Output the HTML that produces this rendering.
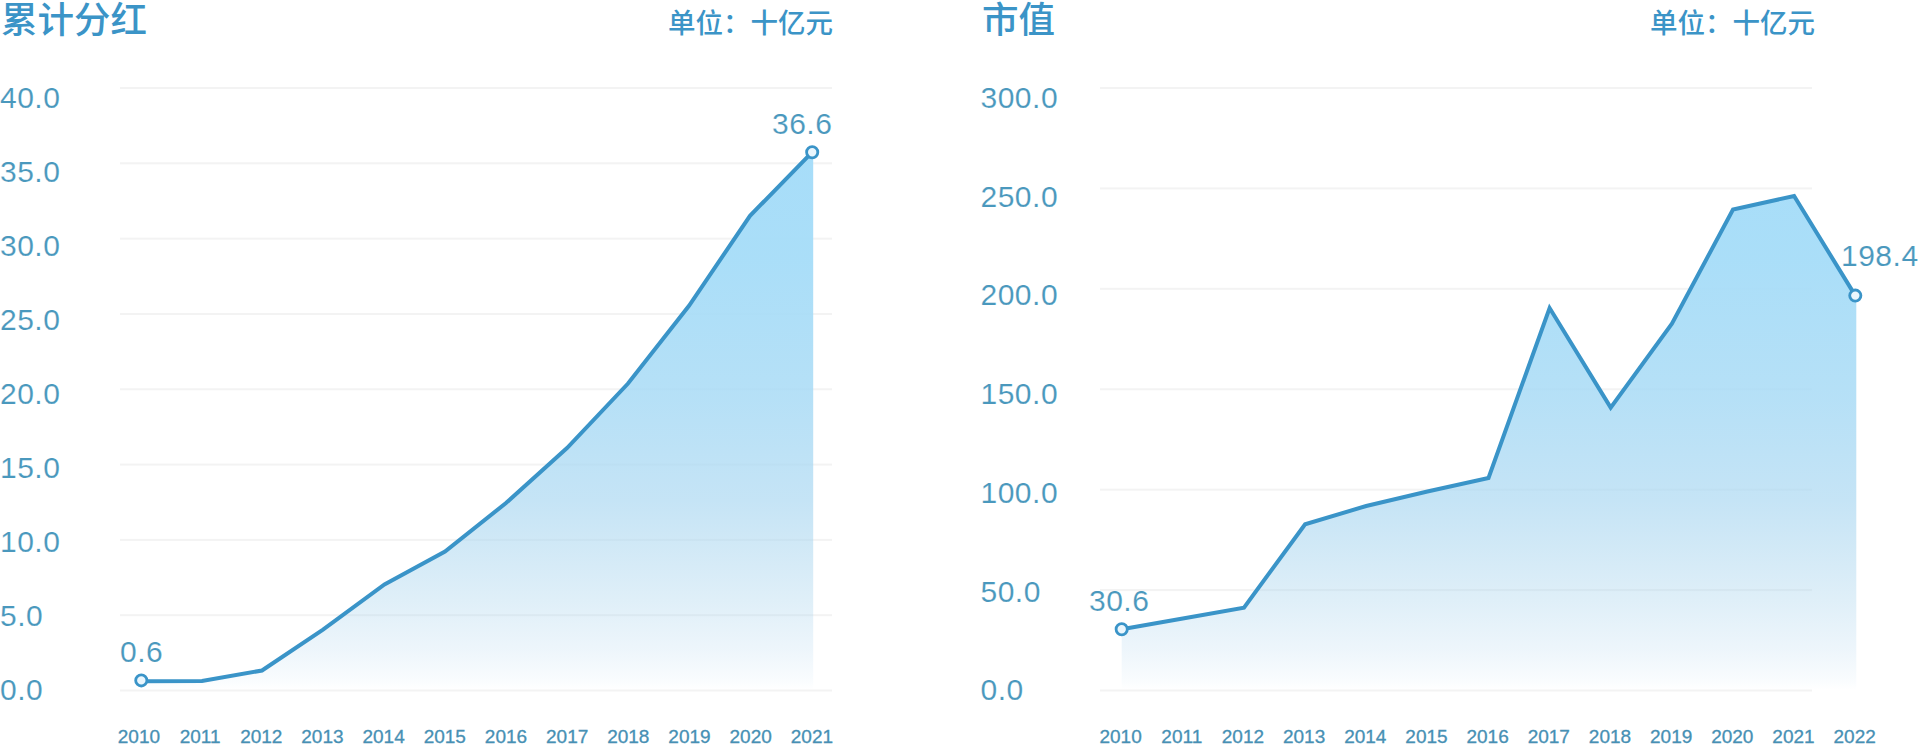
<!DOCTYPE html>
<html lang="zh-CN">
<head>
<meta charset="utf-8">
<title>累计分红 / 市值</title>
<style>
html,body{margin:0;padding:0;background:#fff;}
body{width:1920px;height:745px;overflow:hidden;position:relative;}
svg{display:block;position:absolute;left:0;top:0;}
text{font-family:"Liberation Sans", "Noto Sans CJK SC", sans-serif;}
.yl{font-family:"Liberation Sans", "Noto Sans CJK SC", sans-serif;font-size:30px;fill:#4a98bd;letter-spacing:0.5px;stroke:#fff;stroke-width:0.15px;paint-order:fill stroke;}
.xl{font-family:"Liberation Sans", "Noto Sans CJK SC", sans-serif;font-size:19px;fill:#4790b4;stroke:#4790b4;stroke-width:0.3px;}
.title{font-size:36.5px;font-weight:500;fill:#3b94c7;}
.unit{font-size:27.5px;font-weight:500;fill:#3b94c7;}
</style>
</head>
<body>
<svg width="1920" height="745" viewBox="0 0 1920 745">
<defs>
<linearGradient id="gl" gradientUnits="userSpaceOnUse" x1="0" y1="150" x2="0" y2="690">
<stop offset="0" stop-color="#a7ddf9" stop-opacity="1"/>
<stop offset="0.204" stop-color="#a7ddf8" stop-opacity="0.966"/>
<stop offset="0.463" stop-color="#a7daf5" stop-opacity="0.83"/>
<stop offset="0.648" stop-color="#a7d6f1" stop-opacity="0.66"/>
<stop offset="0.833" stop-color="#a7d3ec" stop-opacity="0.364"/>
<stop offset="0.926" stop-color="#a7d0ed" stop-opacity="0.2"/>
<stop offset="0.98" stop-color="#a7d0ed" stop-opacity="0.07"/>
<stop offset="1" stop-color="#a7d0ed" stop-opacity="0"/>
</linearGradient>
</defs>
<g id="chart-left">
<rect x="120" y="689.50" width="712" height="2" fill="#f3f3f3"/>
<rect x="120" y="614.19" width="712" height="2" fill="#f3f3f3"/>
<rect x="120" y="538.88" width="712" height="2" fill="#f3f3f3"/>
<rect x="120" y="463.56" width="712" height="2" fill="#f3f3f3"/>
<rect x="120" y="388.25" width="712" height="2" fill="#f3f3f3"/>
<rect x="120" y="312.94" width="712" height="2" fill="#f3f3f3"/>
<rect x="120" y="237.62" width="712" height="2" fill="#f3f3f3"/>
<rect x="120" y="162.31" width="712" height="2" fill="#f3f3f3"/>
<rect x="120" y="87.00" width="712" height="2" fill="#f3f3f3"/>
<path d="M141.5,681.3 L202.0,680.9 L262.0,670.5 L323.0,629.6 L384.5,584.5 L445.0,551.6 L506.0,503.0 L567.0,448.0 L628.0,383.5 L689.0,305.8 L750.0,215.8 L812.2,152.2 L813.2,152.2 L813.2,690 L141.5,690 Z" fill="url(#gl)"/>
<path d="M141.5,681.3 L202.0,680.9 L262.0,670.5 L323.0,629.6 L384.5,584.5 L445.0,551.6 L506.0,503.0 L567.0,448.0 L628.0,383.5 L689.0,305.8 L750.0,215.8 L812.2,152.2" fill="none" stroke="#3a94c8" stroke-width="4.0" stroke-linejoin="miter" stroke-linecap="butt"/>
<circle cx="141.3" cy="680.4" r="5.6" fill="#eaf6fd" stroke="#3a94c8" stroke-width="2.8"/>
<circle cx="812.2" cy="152.2" r="5.6" fill="#eaf6fd" stroke="#3a94c8" stroke-width="2.8"/>
<text class="yl" x="0" y="700.30">0.0</text>
<text class="yl" x="0" y="626.26">5.0</text>
<text class="yl" x="0" y="552.22">10.0</text>
<text class="yl" x="0" y="478.19">15.0</text>
<text class="yl" x="0" y="404.15">20.0</text>
<text class="yl" x="0" y="330.11">25.0</text>
<text class="yl" x="0" y="256.07">30.0</text>
<text class="yl" x="0" y="182.04">35.0</text>
<text class="yl" x="0" y="108.00">40.0</text>
<text class="xl" x="138.9" y="743.3" text-anchor="middle">2010</text>
<text class="xl" x="200.1" y="743.3" text-anchor="middle">2011</text>
<text class="xl" x="261.3" y="743.3" text-anchor="middle">2012</text>
<text class="xl" x="322.4" y="743.3" text-anchor="middle">2013</text>
<text class="xl" x="383.6" y="743.3" text-anchor="middle">2014</text>
<text class="xl" x="444.8" y="743.3" text-anchor="middle">2015</text>
<text class="xl" x="506.0" y="743.3" text-anchor="middle">2016</text>
<text class="xl" x="567.2" y="743.3" text-anchor="middle">2017</text>
<text class="xl" x="628.3" y="743.3" text-anchor="middle">2018</text>
<text class="xl" x="689.5" y="743.3" text-anchor="middle">2019</text>
<text class="xl" x="750.7" y="743.3" text-anchor="middle">2020</text>
<text class="xl" x="811.9" y="743.3" text-anchor="middle">2021</text>
<text class="title" x="1" y="33">累计分红</text>
<text class="unit" x="668" y="32.6">单位：十亿元</text>
<text class="yl" x="120" y="662">0.6</text>
<text class="yl" x="772" y="134">36.6</text>
</g>
<g id="chart-right">
<rect x="1100" y="689.50" width="712" height="2" fill="#f3f3f3"/>
<rect x="1100" y="589.08" width="712" height="2" fill="#f3f3f3"/>
<rect x="1100" y="488.67" width="712" height="2" fill="#f3f3f3"/>
<rect x="1100" y="388.25" width="712" height="2" fill="#f3f3f3"/>
<rect x="1100" y="287.83" width="712" height="2" fill="#f3f3f3"/>
<rect x="1100" y="187.42" width="712" height="2" fill="#f3f3f3"/>
<rect x="1100" y="87.00" width="712" height="2" fill="#f3f3f3"/>
<path d="M1121.7,629.3 L1182.8,618.5 L1244.0,607.6 L1305.1,524.3 L1366.2,506.0 L1427.4,491.5 L1488.5,478.0 L1549.6,308.0 L1610.7,407.6 L1671.9,323.8 L1733.0,209.5 L1794.1,196.0 L1855.3,295.6 L1856.3,295.6 L1856.3,690 L1121.7,690 Z" fill="url(#gl)"/>
<path d="M1121.7,629.3 L1182.8,618.5 L1244.0,607.6 L1305.1,524.3 L1366.2,506.0 L1427.4,491.5 L1488.5,478.0 L1549.6,308.0 L1610.7,407.6 L1671.9,323.8 L1733.0,209.5 L1794.1,196.0 L1855.3,295.6" fill="none" stroke="#3a94c8" stroke-width="4.0" stroke-linejoin="miter" stroke-linecap="butt"/>
<circle cx="1121.7" cy="629.3" r="5.6" fill="#eaf6fd" stroke="#3a94c8" stroke-width="2.8"/>
<circle cx="1855.3" cy="295.6" r="5.6" fill="#eaf6fd" stroke="#3a94c8" stroke-width="2.8"/>
<text class="yl" x="980.5" y="700.30">0.0</text>
<text class="yl" x="980.5" y="601.58">50.0</text>
<text class="yl" x="980.5" y="502.87">100.0</text>
<text class="yl" x="980.5" y="404.15">150.0</text>
<text class="yl" x="980.5" y="305.43">200.0</text>
<text class="yl" x="980.5" y="206.72">250.0</text>
<text class="yl" x="980.5" y="108.00">300.0</text>
<text class="xl" x="1120.6" y="743.3" text-anchor="middle">2010</text>
<text class="xl" x="1181.8" y="743.3" text-anchor="middle">2011</text>
<text class="xl" x="1242.9" y="743.3" text-anchor="middle">2012</text>
<text class="xl" x="1304.1" y="743.3" text-anchor="middle">2013</text>
<text class="xl" x="1365.3" y="743.3" text-anchor="middle">2014</text>
<text class="xl" x="1426.5" y="743.3" text-anchor="middle">2015</text>
<text class="xl" x="1487.6" y="743.3" text-anchor="middle">2016</text>
<text class="xl" x="1548.8" y="743.3" text-anchor="middle">2017</text>
<text class="xl" x="1610.0" y="743.3" text-anchor="middle">2018</text>
<text class="xl" x="1671.2" y="743.3" text-anchor="middle">2019</text>
<text class="xl" x="1732.3" y="743.3" text-anchor="middle">2020</text>
<text class="xl" x="1793.5" y="743.3" text-anchor="middle">2021</text>
<text class="xl" x="1854.7" y="743.3" text-anchor="middle">2022</text>
<text class="title" x="982" y="33">市值</text>
<text class="unit" x="1650" y="32.6">单位：十亿元</text>
<text class="yl" x="1089" y="610.5">30.6</text>
<text class="yl" x="1841" y="266">198.4</text>
</g>
</svg>
</body>
</html>
